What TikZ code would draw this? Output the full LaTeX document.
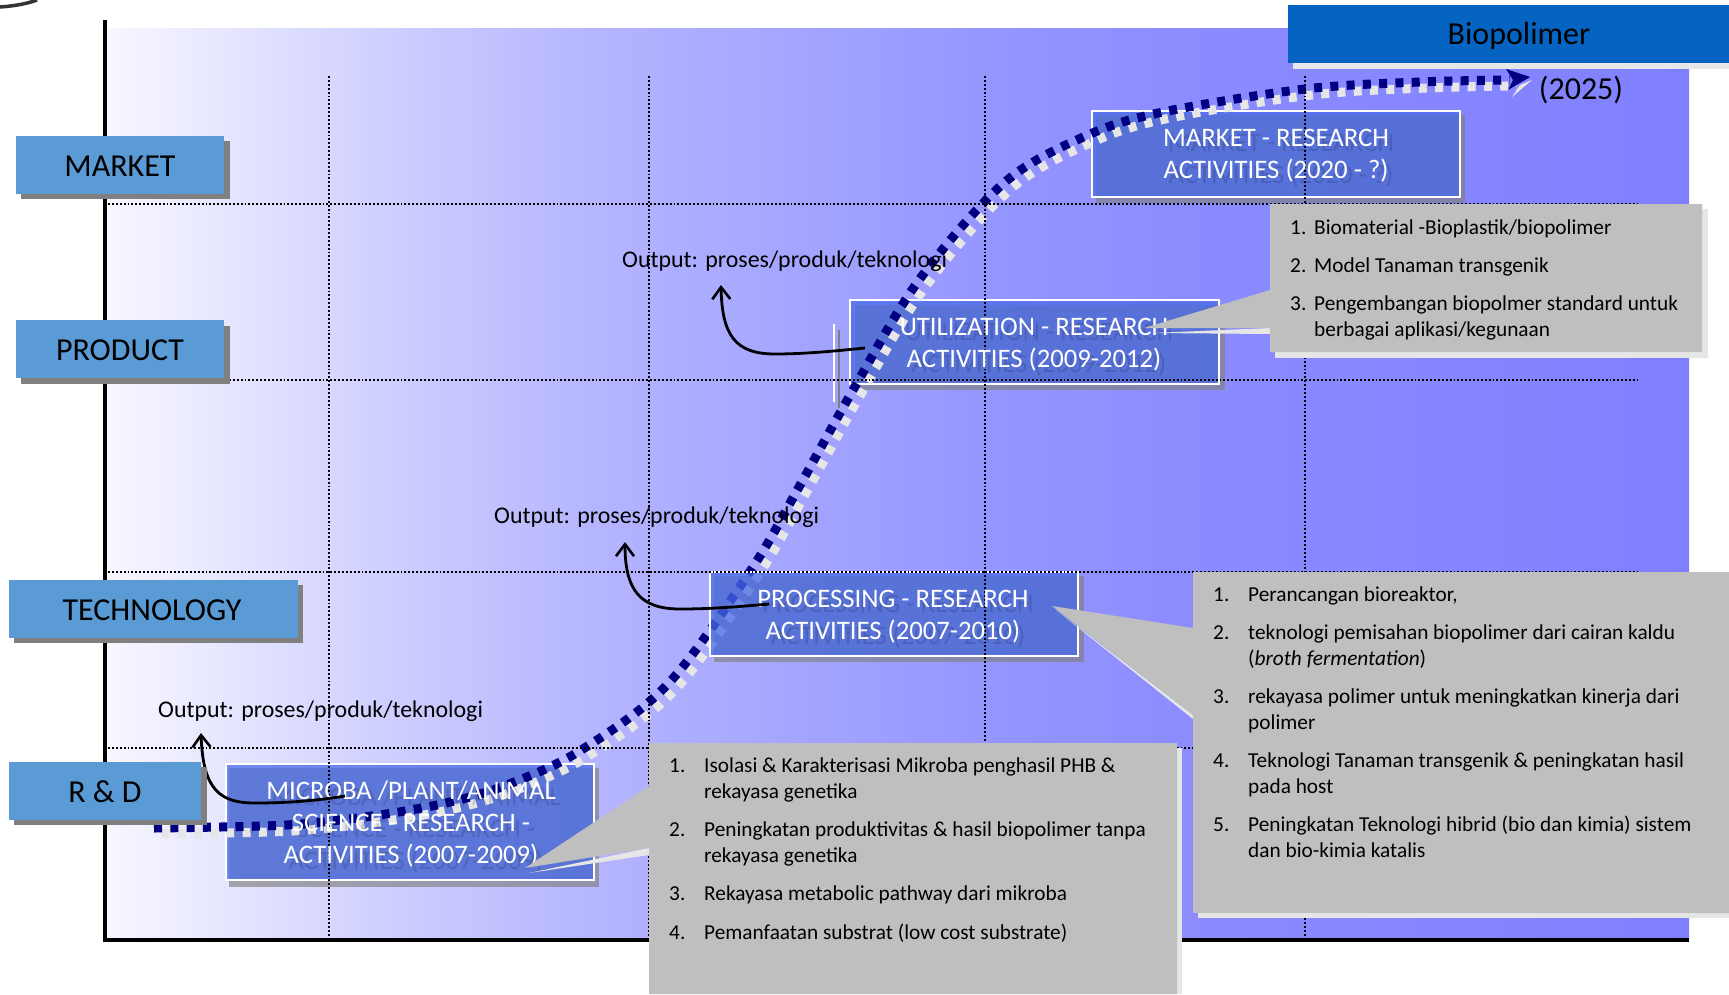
\documentclass[tikz,border=0pt]{standalone}
\usepackage{fontspec}
\setmainfont{Carlito}
\usetikzlibrary{arrows.meta,calc}
\definecolor{navyc}{RGB}{0,0,128}
\definecolor{lab}{RGB}{91,155,213}
\definecolor{boxb}{RGB}{72,107,232}
\definecolor{cg}{RGB}{191,191,191}
\definecolor{sh}{RGB}{230,230,230}
\definecolor{bio}{RGB}{5,99,193}
\pgfdeclarehorizontalshading{bgs}{100bp}{
 rgb(0bp)=(.969,.969,1);rgb(25bp)=(.969,.969,1);rgb(34.2bp)=(.804,.804,1);rgb(40.6bp)=(.706,.706,1);
 rgb(52.7bp)=(.588,.588,1);rgb(58.9bp)=(.549,.549,1);rgb(75bp)=(.502,.502,1);rgb(100bp)=(.502,.502,1)}
\tikzset{
 grid/.style={line width=1.6pt,dash pattern=on 1.9pt off 2pt},
 labelbox/.style={fill=lab,draw=none},
 labelsh/.style={fill=black!50,draw=none},
 lt/.style={font=\fontsize{32}{32}\selectfont,text=black,inner sep=0pt},
 boxsh/.style={fill=black!50,fill opacity=.65,draw=none},
 rbox/.style={fill=boxb,fill opacity=.75,draw=none},
 rline/.style={draw=white,line width=2pt},
 rt/.style={font=\fontsize{26.7}{32}\selectfont,text=white,align=center,inner sep=0pt},
 rs/.style={font=\fontsize{26.7}{32}\selectfont,text=black,text opacity=.14,align=center,inner sep=0pt},
 ot/.style={font=\fontsize{23.9}{26}\selectfont,text=black,inner sep=0pt,anchor=west},
 ct/.style={font=\fontsize{21.3}{26}\selectfont,text=black,inner sep=0pt,anchor=base west},
 arr/.style={line width=2.8pt,-{Straight Barb[length=12pt,width=18pt,line width=2.6pt]}},
 curve/.style={line width=9pt,dash pattern=on 8pt off 8.3pt},
}
\begin{document}
\begin{tikzpicture}[x=1pt,y=-1pt]
\useasboundingbox (0,0) rectangle (1729,994);
% arc at the corner
\draw[line width=3.5pt,black!80] (0,7) .. controls (14,6) and (26,4) .. (37,0);
% background
\shade[shading=bgs] (108,28) rectangle (1689,939);
\draw[line width=4pt] (105,20) -- (105,940) -- (1689,940);
% research boxes below the curve
\fill[boxsh] (229,768) rectangle (599,887);
\fill[rbox] (226,764) rectangle (594,880);
\draw[rline] (226,764) rectangle (594,880);
\fill[boxsh] (1096,115) rectangle (1465,203);
\fill[rbox] (1092,111) rectangle (1460,197);
\draw[rline] (1092,111) rectangle (1460,197);
\fill[boxsh] (855,305) rectangle (1225,390);
\fill[rbox] (850,300) rectangle (1219,384);
\draw[rline] (850,300) rectangle (1219,384);
\fill[black!50] (838,330) rectangle (840,408);
\draw[white,line width=1.6pt] (834,324) -- (834,402);
\fill[boxsh] (714,576) rectangle (1084,662);
% curve
\def\curvepts{(154,828) (286,825) (379,815) (446,803) (504,786) (578,752) (667,685) (751,570) (799,487) (853,390) (919,280) (1005,182) (1088,135) (1163,112) (1305,89) (1420,82) (1510,80)}
\draw[curve,sh,shift={(7,6)}] plot[smooth,tension=.55] coordinates {\curvepts};
\draw[curve,navyc] plot[smooth,tension=.55] coordinates {\curvepts};
\fill[sh] (1512,97) -- (1532,80) -- (1520,85) -- cycle;
\fill[navyc] (1506,69) -- (1530,77) -- (1508,90) -- (1513,80) -- cycle;
% processing box above the curve
\fill[rbox] (710,572) rectangle (1078,656);
\draw[rline] (710,572) rectangle (1078,656);
% grid
\foreach \x in {329,649,985,1305}{\draw[grid] (\x,76) -- (\x,939);}
\foreach \y in {204,380,572,748}{\draw[grid] (108,\y) -- (1637,\y);}
% box texts
\node[rs] at (416,830) {MICROBA /PLANT/ANIMAL\\SCIENCE - RESEARCH -\\ACTIVITIES (2007-2009)};
\node[rt] (micro) at (411,824) {MICROBA /PLANT/ANIMAL\\SCIENCE - RESEARCH -\\ACTIVITIES (2007-2009)};
\node[rs] at (1281,161) {MARKET - RESEARCH\\ACTIVITIES (2020 - ?)};
\node[rt] (market) at (1276,155.5) {MARKET - RESEARCH\\ACTIVITIES (2020 - ?)};
\node[rs] at (1039,350) {UTILIZATION - RESEARCH\\ACTIVITIES (2009-2012)};
\node[rt] (util) at (1034,344.5) {UTILIZATION - RESEARCH\\ACTIVITIES (2009-2012)};
\node[rs] at (898,622) {PROCESSING - RESEARCH\\ACTIVITIES (2007-2010)};
\node[rt] (proc) at (893,616.5) {PROCESSING - RESEARCH\\ACTIVITIES (2007-2010)};
% outputs
\node[ot] (o1) at (158,711) {Output: proses/produk/teknologi};
\node[ot] (o2) at (494,517) {Output: proses/produk/teknologi};
\node[ot] (o3) at (622,261) {Output: proses/produk/teknologi};
\coordinate (s1) at (345,796); \coordinate (t1) at (201,733);
\coordinate (s2) at (769,604); \coordinate (t2) at (625,542);
\coordinate (s3) at (865,348); \coordinate (t3) at (721,285);
\draw[arr] (s1) .. controls (315,801) and (285,803) .. (255,803) .. controls (220,803) and (203,790) .. (t1);
\draw[arr] (s2) .. controls (735,607) and (710,609) .. (680,609) .. controls (640,609) and (625,590) .. (t2);
\draw[arr] (s3) .. controls (835,351) and (805,354) .. (775,354) .. controls (735,354) and (722,335) .. (t3);
% callout micro
\fill[sh] (654,748) rectangle (1182,994);
\fill[sh] (529,873) -- (649,848) -- (649,855) -- cycle;
\fill[cg] (649,743) -- (1177,743) -- (1177,994) -- (649,994) -- (649,848) -- (525,868) -- (649,786) -- cycle;
\node[ct] (a1) at (669,772) {1.};
\node[ct] (a1t) at (704,772) {Isolasi \& Karakterisasi Mikroba penghasil PHB \&};
\node[ct] (a1u) at (704,798) {rekayasa genetika};
\node[ct] (a2) at (669,836) {2.};
\node[ct] (a2t) at (704,836) {Peningkatan produktivitas \& hasil biopolimer tanpa};
\node[ct] (a2u) at (704,862) {rekayasa genetika};
\node[ct] (a3) at (669,900) {3.};
\node[ct] (a3t) at (704,900) {Rekayasa metabolic pathway dari mikroba};
\node[ct] (a4) at (669,939) {4.};
\node[ct] (a4t) at (704,939) {Pemanfaatan substrat (low cost substrate)};
% callout proc
\fill[sh] (1198,577) rectangle (1729,918);
\fill[sh] (1056,610) -- (1193,719) -- (1193,715) -- cycle;
\fill[cg] (1193,572) -- (1729,572) -- (1729,913) -- (1193,913) -- (1193,715) -- (1052,606) -- (1193,628) -- cycle;
\node[ct] (b1) at (1213,601) {1.};
\node[ct] (b1t) at (1248,601) {Perancangan bioreaktor,};
\node[ct] (b2) at (1213,639) {2.};
\node[ct] (b2t) at (1248,639) {teknologi pemisahan biopolimer dari cairan kaldu};
\node[ct] (b2u) at (1248,665) {(\textit{broth fermentation})};
\node[ct] (b3) at (1213,703) {3.};
\node[ct] (b3t) at (1248,703) {rekayasa polimer untuk meningkatkan kinerja dari};
\node[ct] (b3u) at (1248,729) {polimer};
\node[ct] (b4) at (1213,767) {4.};
\node[ct] (b4t) at (1248,767) {Teknologi Tanaman transgenik \& peningkatan hasil};
\node[ct] (b4u) at (1248,793) {pada host};
\node[ct] (b5) at (1213,831) {5.};
\node[ct] (b5t) at (1248,831) {Peningkatan Teknologi hibrid (bio dan kimia) sistem};
\node[ct] (b5u) at (1248,857) {dan bio-kimia katalis};
% callout util
\fill[sh] (1275,209) rectangle (1708,358);
\fill[sh] (1153,333) -- (1270,328) -- (1270,334) -- cycle;
\fill[cg] (1270,204) -- (1702,204) -- (1702,352) -- (1270,352) -- (1270,328) -- (1144,328) -- (1270,290) -- cycle;
\node[ct] (c1) at (1290,234) {1.};
\node[ct] (c1t) at (1314,234) {Biomaterial -Bioplastik/biopolimer};
\node[ct] (c2) at (1290,272) {2.};
\node[ct] (c2t) at (1314,272) {Model Tanaman transgenik};
\node[ct] (c3) at (1290,310) {3.};
\node[ct] (c3t) at (1314,310) {Pengembangan biopolmer standard untuk};
\node[ct] (c3u) at (1314,336) {berbagai aplikasi/kegunaan};
% biopolimer
\fill[sh] (1293,11) rectangle (1729,69);
\fill[bio] (1288,5) rectangle (1729,63);
\node[lt] (bio) at (1519,36) {Biopolimer};
\node[lt] (y2025) at (1581,90) {(2025)};
% labels
\fill[labelsh] (21,141) rectangle (230,199);
\fill[labelbox] (16,136) rectangle (224,194);
\node[lt] (lm) at (120,166) {MARKET};
\fill[labelsh] (21,326) rectangle (230,384);
\fill[labelbox] (16,320) rectangle (224,378);
\node[lt] (lp) at (120,350) {PRODUCT};
\fill[labelsh] (14,585) rectangle (303,643);
\fill[labelbox] (9,580) rectangle (298,638);
\node[lt] (lt) at (152,610) {TECHNOLOGY};
\fill[labelsh] (14,767) rectangle (207,825);
\fill[labelbox] (9,762) rectangle (201,820);
\node[lt] (lr) at (105,792) {R \& D};
\end{tikzpicture}
\end{document}
